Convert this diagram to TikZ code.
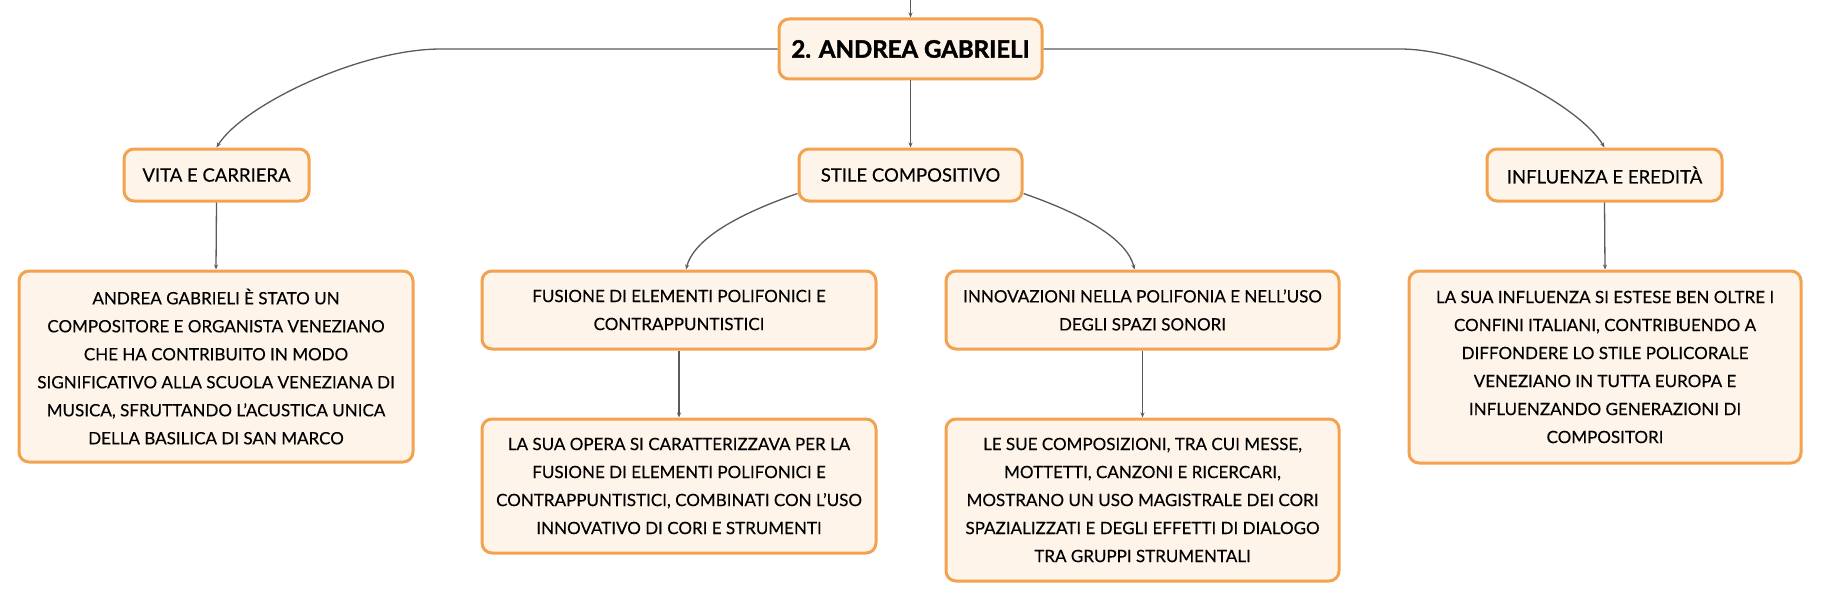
\documentclass[tikz,border=0pt]{standalone}
\usepackage{fontspec}
\setmainfont{Lato}[UprightFeatures={FakeBold=0.25},BoldFeatures={FakeBold=1.6}]
\usetikzlibrary{arrows.meta}
\definecolor{boxfill}{HTML}{FEF4EA}
\definecolor{boxdraw}{HTML}{F3A24F}
\definecolor{linkc}{HTML}{5A5A5A}
\tikzset{
  box/.style={draw=boxdraw, fill=boxfill, line width=3pt, rounded corners=10pt,
    align=center, inner sep=0pt, text=black},
  rootbox/.style={box, font=\fontsize{24}{28}\selectfont\bfseries},
  lone/.style={box, font=\fontsize{18.5}{24}\selectfont},
  leaf/.style={box, font=\fontsize{17}{28}\selectfont},
  link/.style={draw=linkc, line width=1.3pt, -{Stealth[length=5pt,width=4pt]}},
}
\begin{document}
\begin{tikzpicture}[x=1pt,y=-1pt]
\useasboundingbox (0,0) rectangle (1821,602);
% nodes
\node[rootbox, minimum width=263, minimum height=60] (root) at (910.5,49) {2. ANDREA GABRIELI};
\node[lone, minimum width=185, minimum height=52] (vita) at (216.5,175) {VITA E CARRIERA};
\node[lone, minimum width=223, minimum height=52] (stile) at (910.5,175) {STILE COMPOSITIVO};
\node[lone, minimum width=235, minimum height=52] (infl) at (1604.5,175) {INFLUENZA E EREDITÀ};
\node[leaf, minimum width=394, minimum height=191] (vitac) at (216,366.5)
 {ANDREA GABRIELI È STATO UN\\COMPOSITORE E ORGANISTA VENEZIANO\\CHE HA CONTRIBUITO IN MODO\\SIGNIFICATIVO ALLA SCUOLA VENEZIANA DI\\MUSICA, SFRUTTANDO L’ACUSTICA UNICA\\DELLA BASILICA DI SAN MARCO};
\node[leaf, minimum width=394, minimum height=78] (fus) at (679,310)
 {FUSIONE DI ELEMENTI POLIFONICI E\\CONTRAPPUNTISTICI};
\node[leaf, minimum width=393, minimum height=78] (inn) at (1142.5,310)
 {INNOVAZIONI NELLA POLIFONIA E NELL’USO\\DEGLI SPAZI SONORI};
\node[leaf, minimum width=394, minimum height=134] (fusc) at (679,486)
 {LA SUA OPERA SI CARATTERIZZAVA PER LA\\FUSIONE DI ELEMENTI POLIFONICI E\\CONTRAPPUNTISTICI, COMBINATI CON L’USO\\INNOVATIVO DI CORI E STRUMENTI};
\node[leaf, minimum width=393, minimum height=162] (innc) at (1142.5,500)
 {LE SUE COMPOSIZIONI, TRA CUI MESSE,\\MOTTETTI, CANZONI E RICERCARI,\\MOSTRANO UN USO MAGISTRALE DEI CORI\\SPAZIALIZZATI E DEGLI EFFETTI DI DIALOGO\\TRA GRUPPI STRUMENTALI};
\node[leaf, minimum width=392, minimum height=192] (inflc) at (1605,367)
 {LA SUA INFLUENZA SI ESTESE BEN OLTRE I\\CONFINI ITALIANI, CONTRIBUENDO A\\DIFFONDERE LO STILE POLICORALE\\VENEZIANO IN TUTTA EUROPA E\\INFLUENZANDO GENERAZIONI DI\\COMPOSITORI};
% connectors
\coordinate (top) at (910.5,0);
\draw[link] (top) -- (root.north);
\draw[link] (root.west) -- (441,49) .. controls (360,49) and (243,105) .. (vita.north);
\draw[link] (root.east) -- (1400,49) .. controls (1473,49) and (1579,105) .. (infl.north);
\draw[link] (root.south) -- (stile.north);
\draw[link] ([yshift=9pt]stile.south west) .. controls (750,210) and (695,235) .. ([xshift=7pt]fus.north);
\draw[link] ([yshift=9pt]stile.south east) .. controls (1071,210) and (1126,235) .. ([xshift=-8pt]inn.north);
\draw[link] (vita.south) -- (vitac.north);
\draw[link] (fus.south) -- (fusc.north);
\draw[link] (inn.south) -- (innc.north);
\draw[link] (infl.south) -- (inflc.north);
\end{tikzpicture}
\end{document}
